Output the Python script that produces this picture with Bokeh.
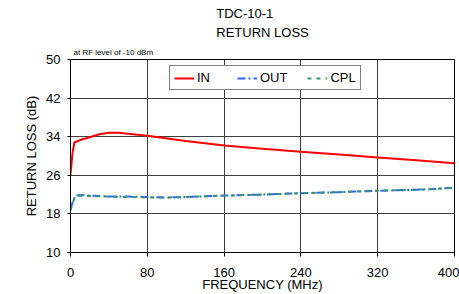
from bokeh.plotting import figure
from bokeh.models import Legend, LegendItem, Title, FixedTicker, Range1d
from bokeh.embed import file_html
from bokeh.resources import INLINE

# ---- data ----
freq_in = [0, 2, 4, 10, 20, 30, 40, 50, 60, 80, 120, 160, 200, 240, 280, 320, 360, 400]
rl_in = [26.0, 30.5, 32.8, 33.3, 33.9, 34.5, 34.8, 34.8, 34.6, 34.2, 33.1, 32.2, 31.5, 30.9, 30.3, 29.7, 29.1, 28.5]

freq_out = [0, 2, 5, 10, 20, 40, 60, 80, 100, 120, 160, 200, 240, 280, 320, 360, 400]
rl_out = [18.9, 20.3, 21.8, 21.9, 21.8, 21.6, 21.6, 21.5, 21.4, 21.5, 21.8, 22.0, 22.3, 22.5, 22.8, 23.0, 23.4]

freq_cpl = [0, 2, 5, 10, 20, 40, 60, 80, 100, 120, 160, 200, 240, 280, 320, 360, 400]
rl_cpl = [18.7, 20.1, 21.7, 21.8, 21.7, 21.6, 21.5, 21.4, 21.4, 21.5, 21.8, 22.0, 22.3, 22.5, 22.8, 23.0, 23.4]

x_ticks = [0, 80, 160, 240, 320, 400]
y_ticks = [10, 18, 26, 34, 42, 50]

x_title = "FREQUENCY (MHz)"
y_title = "RETURN LOSS (dB)"

FONT = "Liberation Sans"

p = figure(width=459, height=294, output_backend="svg", toolbar_location=None,
           x_range=Range1d(0, 400), y_range=Range1d(10, 50),
           min_border_left=70, min_border_right=5, min_border_top=59, min_border_bottom=42,
           background_fill_color="white", border_fill_color="white")

p.outline_line_color = "black"
p.outline_line_width = 1

# titles (added nearest-first)
p.add_layout(Title(text="at RF level of -10 dBm", align="left", offset=3, standoff=6,
                   text_font=FONT, text_font_size="8px", text_font_style="normal",
                   text_color="black"), "above")
p.add_layout(Title(text="TDC-10-1\nRETURN LOSS", align="center", standoff=5,
                   text_font=FONT, text_font_size="13px", text_font_style="normal",
                   text_line_height=1.28, text_color="black"), "above")

for ax in (p.xaxis[0], p.yaxis[0]):
    ax.major_label_text_font = FONT
    ax.major_label_text_font_size = "13px"
    ax.major_label_text_color = "black"
    ax.axis_label_text_font = FONT
    ax.axis_label_text_font_size = "13px"
    ax.axis_label_text_font_style = "normal"
    ax.axis_label_text_color = "black"
    ax.axis_line_color = "black"
    ax.major_tick_line_color = "black"
    ax.minor_tick_line_color = None
    ax.major_tick_in = 0

p.xaxis.ticker = FixedTicker(ticks=x_ticks)
p.yaxis.ticker = FixedTicker(ticks=y_ticks)
p.xaxis.axis_label = x_title
p.yaxis.axis_label = y_title
p.xaxis.major_tick_out = 4
p.xaxis.major_label_standoff = 11
p.xaxis.axis_label_standoff = -3
p.yaxis.major_tick_out = 3
p.yaxis.major_label_standoff = 7
p.yaxis.axis_label_standoff = 4

p.xgrid.grid_line_color = "#404040"
p.ygrid.grid_line_color = "#404040"
p.xgrid.grid_line_width = 1
p.ygrid.grid_line_width = 1

r_in = p.line(freq_in, rl_in, line_color="#ff0000", line_width=2)
r_out = p.line(freq_out, rl_out, line_color="#3366ff", line_width=2, line_dash="8 3 2 3")
r_cpl = p.line(freq_cpl, rl_cpl, line_color="#339966", line_width=2, line_dash="4 5")

legend = Legend(items=[LegendItem(label="IN", renderers=[r_in]),
                       LegendItem(label="OUT", renderers=[r_out]),
                       LegendItem(label="CPL", renderers=[r_cpl])],
                orientation="horizontal", location=(99, 162),
                padding=4, spacing=20, glyph_width=20, glyph_height=12,
                label_height=12, label_standoff=3,
                label_text_font=FONT, label_text_font_size="13px", label_text_color="black",
                border_line_color="black", border_line_width=1,
                background_fill_color="white", background_fill_alpha=1.0, margin=0)
p.add_layout(legend, "center")

open("out.html", "w").write(file_html(p, INLINE))
